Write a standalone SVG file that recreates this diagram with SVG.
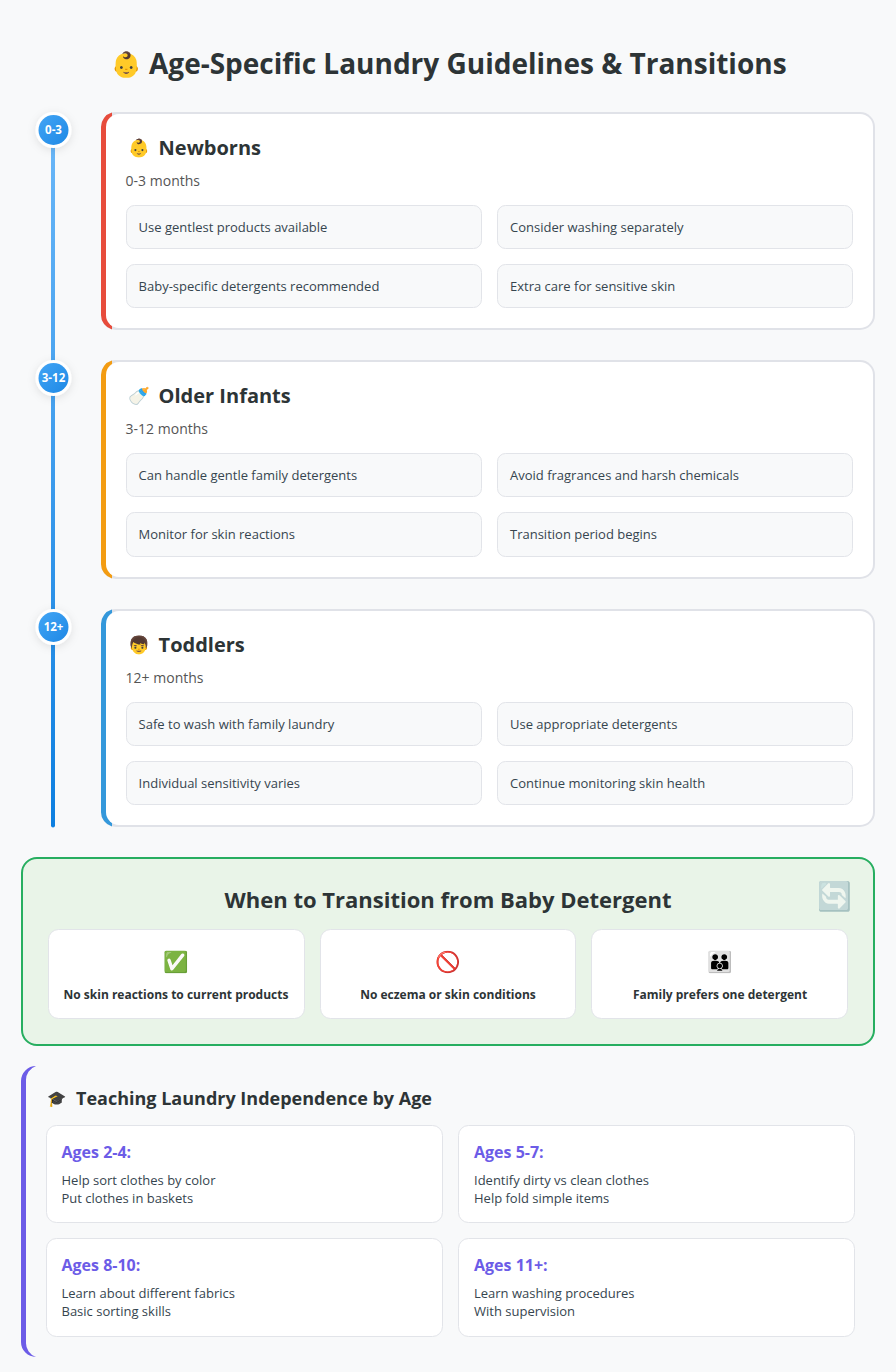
<svg xmlns="http://www.w3.org/2000/svg" width="896" height="1372" viewBox="0 0 896 1372">
<defs>
<linearGradient id="line" x1="0" y1="0" x2="0" y2="1"><stop offset="0" stop-color="#6ab7f8"/><stop offset="1" stop-color="#0d7fe0"/></linearGradient>
<linearGradient id="dot" x1="0" y1="0" x2="1" y2="1"><stop offset="0" stop-color="#42a5f5"/><stop offset="1" stop-color="#1e88e5"/></linearGradient>
<filter id="sh" x="-50%" y="-50%" width="200%" height="200%"><feDropShadow dx="0" dy="2" stdDeviation="4" flood-color="#000" flood-opacity="0.1"/></filter>
</defs>
<style>
text{font-family:"Open Sans","Noto Sans",sans-serif;fill:#2d3436}
.emoji{font-family:"Noto Color Emoji",sans-serif}
.title{font-size:28px;font-weight:700}
.h{font-size:20px;font-weight:700}
.sub{font-size:14px;fill:#555}
.it{font-size:13px;fill:#36454f}
.box{fill:#f8f9fa;stroke:#e2e4e9;stroke-width:1}
.card{fill:#fff;stroke:#e2e4e9;stroke-width:1}
.outer{fill:#e0e2e8}
.inner{fill:#fff}
.num{font-size:11.500px;font-weight:700;fill:#fff;text-anchor:middle}
.tr{font-size:22px;font-weight:700;text-anchor:middle}
.cap{font-size:12px;font-weight:700;text-anchor:middle}
.te{font-size:18px;font-weight:700}
.ag{font-size:16px;font-weight:700;fill:#6c5ce7}
.t{font-size:13px;fill:#36454f}
</style>
<rect width="896" height="1372" fill="#f8f9fa"/>
<g id="title"><text class="emoji" x="111" y="73" font-size="24.500">👶</text><text class="title" x="149" y="74">Age-Specific Laundry Guidelines &amp; Transitions</text></g>
<g id="connectors"><rect x="51" y="130" width="4" height="697.500" rx="2" fill="url(#line)"/></g>
<g id="dot1"><circle cx="53.500" cy="130" r="18" fill="#fff" filter="url(#sh)"/><circle cx="53.500" cy="130" r="15" fill="url(#dot)"/><text class="num" x="53.500" y="134">0-3</text></g>
<g id="dot2"><circle cx="53.500" cy="378" r="18" fill="#fff" filter="url(#sh)"/><circle cx="53.500" cy="378" r="15" fill="url(#dot)"/><text class="num" x="53.500" y="382">3-12</text></g>
<g id="dot3"><circle cx="53.500" cy="627" r="18" fill="#fff" filter="url(#sh)"/><circle cx="53.500" cy="627" r="15" fill="url(#dot)"/><text class="num" x="53.500" y="631">12+</text></g>

<g id="newborns">
<rect class="outer" x="101" y="112" width="774" height="218" rx="15"/>
<path d="M112 112.500A15 15 0 0 0 101 127V315A15 15 0 0 0 112 329.500V112.500Z" fill="#e74c3c"/>
<path class="inner" d="M119 114H860A13 13 0 0 1 873 127V315A13 13 0 0 1 860 328H119A13 13 0 0 1 106 315V127A13 13 0 0 1 119 114Z"/>
<text class="emoji" x="128" y="154" font-size="17.500">👶</text><text class="h" x="158.600" y="155">Newborns</text>
<text class="sub" x="125.600" y="186">0-3 months</text>
<rect class="box" x="126.500" y="205.500" width="355" height="43" rx="8"/><text class="it" x="138.600" y="232">Use gentlest products available</text>
<rect class="box" x="497.500" y="205.500" width="355" height="43" rx="8"/><text class="it" x="510" y="232">Consider washing separately</text>
<rect class="box" x="126.500" y="264.500" width="355" height="43" rx="8"/><text class="it" x="138.600" y="291">Baby-specific detergents recommended</text>
<rect class="box" x="497.500" y="264.500" width="355" height="43" rx="8"/><text class="it" x="510" y="291">Extra care for sensitive skin</text>
</g>
<g id="older-infants">
<rect class="outer" x="101" y="360" width="774" height="219" rx="15"/>
<path d="M112 360.500A15 15 0 0 0 101 375V564A15 15 0 0 0 112 578.500V360.500Z" fill="#f39c12"/>
<path class="inner" d="M119 362H860A13 13 0 0 1 873 375V564A13 13 0 0 1 860 577H119A13 13 0 0 1 106 564V375A13 13 0 0 1 119 362Z"/>
<text class="emoji" x="128" y="402" font-size="17.500">🍼</text><text class="h" x="158.600" y="403">Older Infants</text>
<text class="sub" x="125.600" y="434">3-12 months</text>
<rect class="box" x="126.500" y="453.500" width="355" height="43" rx="8"/><text class="it" x="138.600" y="480">Can handle gentle family detergents</text>
<rect class="box" x="497.500" y="453.500" width="355" height="43" rx="8"/><text class="it" x="510" y="480">Avoid fragrances and harsh chemicals</text>
<rect class="box" x="126.500" y="512.500" width="355" height="44" rx="8"/><text class="it" x="138.600" y="539">Monitor for skin reactions</text>
<rect class="box" x="497.500" y="512.500" width="355" height="44" rx="8"/><text class="it" x="510" y="539">Transition period begins</text>
</g>
<g id="toddlers">
<rect class="outer" x="101" y="609" width="774" height="218" rx="15"/>
<path d="M112 609.500A15 15 0 0 0 101 624V812A15 15 0 0 0 112 826.500V609.500Z" fill="#3498db"/>
<path class="inner" d="M119 611H860A13 13 0 0 1 873 624V812A13 13 0 0 1 860 825H119A13 13 0 0 1 106 812V624A13 13 0 0 1 119 611Z"/>
<text class="emoji" x="128" y="651" font-size="17.500">👦</text><text class="h" x="158.600" y="652">Toddlers</text>
<text class="sub" x="125.600" y="683">12+ months</text>
<rect class="box" x="126.500" y="702.500" width="355" height="43" rx="8"/><text class="it" x="138.600" y="729">Safe to wash with family laundry</text>
<rect class="box" x="497.500" y="702.500" width="355" height="43" rx="8"/><text class="it" x="510" y="729">Use appropriate detergents</text>
<rect class="box" x="126.500" y="761.500" width="355" height="43" rx="8"/><text class="it" x="138.600" y="788">Individual sensitivity varies</text>
<rect class="box" x="497.500" y="761.500" width="355" height="43" rx="8"/><text class="it" x="510" y="788">Continue monitoring skin health</text>
</g>
<g id="transition">
<rect x="22" y="858" width="852" height="187" rx="15" fill="#e9f4e8" stroke="#27ae60" stroke-width="2"/>
<text class="tr" x="448" y="908">When to Transition from Baby Detergent</text>
<text class="emoji" x="817" y="906" font-size="28" opacity="0.4">🔄</text>
<rect class="card" x="48.500" y="929.500" width="256" height="89" rx="10"/><text class="emoji" x="176.500" y="969" font-size="20.500" text-anchor="middle">✅</text><text class="cap" x="176" y="999">No skin reactions to current products</text>
<rect class="card" x="320.500" y="929.500" width="255" height="89" rx="10"/><text class="emoji" x="448.500" y="969" font-size="20.500" text-anchor="middle">🚫</text><text class="cap" x="448" y="999">No eczema or skin conditions</text>
<rect class="card" x="591.500" y="929.500" width="256" height="89" rx="10"/><text class="emoji" x="720.500" y="969" font-size="20.500" text-anchor="middle">👪</text><text class="cap" x="720" y="999">Family prefers one detergent</text>
</g>
<g id="teaching">
<path d="M36 1066A15 15 0 0 0 21 1081V1342A15 15 0 0 0 36 1357A15 15 0 0 1 26 1342V1081A15 15 0 0 1 36 1066Z" fill="#6c5ce7"/>
<text class="emoji" x="47" y="1104" font-size="15.500">🎓</text><text class="te" x="76" y="1105">Teaching Laundry Independence by Age</text>
<rect class="card" x="46.500" y="1125.500" width="396" height="97" rx="10"/><text class="ag" x="61.500" y="1158">Ages 2-4:</text><text class="t" x="61.500" y="1185">Help sort clothes by color</text><text class="t" x="61.500" y="1203">Put clothes in baskets</text>
<rect class="card" x="458.500" y="1125.500" width="396" height="97" rx="10"/><text class="ag" x="474" y="1158">Ages 5-7:</text><text class="t" x="474" y="1185">Identify dirty vs clean clothes</text><text class="t" x="474" y="1203">Help fold simple items</text>
<rect class="card" x="46.500" y="1238.500" width="396" height="98" rx="10"/><text class="ag" x="61.500" y="1271">Ages 8-10:</text><text class="t" x="61.500" y="1298">Learn about different fabrics</text><text class="t" x="61.500" y="1316">Basic sorting skills</text>
<rect class="card" x="458.500" y="1238.500" width="396" height="98" rx="10"/><text class="ag" x="474" y="1271">Ages 11+:</text><text class="t" x="474" y="1298">Learn washing procedures</text><text class="t" x="474" y="1316">With supervision</text>
</g>
</svg>
